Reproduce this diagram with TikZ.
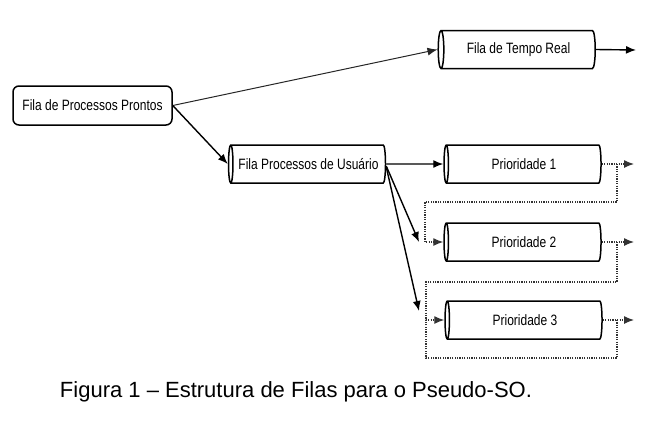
\documentclass[tikz,border=0pt]{standalone}
\usepackage{fontspec}
\setmainfont{Liberation Sans}
\newfontfamily\boxfont[FakeStretch=0.8]{Liberation Sans}
\usetikzlibrary{shapes.geometric,arrows.meta}

\tikzset{
  fila/.style={draw, line width=1.5pt, cylinder, shape border rotate=180,
    aspect=0.4, minimum width=38pt, minimum height=157pt, inner sep=0pt,
    font=\boxfont\fontsize{15}{17}\selectfont},
  pronta/.style={draw, line width=1.5pt, rounded corners=6pt,
    minimum width=159pt, minimum height=39pt, inner sep=0pt,
    font=\boxfont\fontsize{15}{17}\selectfont},
  seta/.style={line width=1.4pt, -{Latex[length=10pt,width=8pt]}},
  volta/.style={line width=1.2pt, gray!40!black, dash pattern=on 1.2pt off 1.2pt},
  voltaseta/.style={volta, -{Latex[length=10pt,width=8pt]}}
}

\begin{document}
\begin{tikzpicture}[x=1pt,y=-1pt]
  \useasboundingbox (0,0) rectangle (648,424);
  % filas
  \node[pronta] (pront) at (92.5,105.5) {Fila de Processos Prontos};
  \node[fila] (tempo) at (518.5,49.5) {Fila de Tempo Real};
  \node[fila] (usu) at (308.5,164) {Fila Processos de Usu\'ario};
  \node[fila] (p1) at (524,164) {Prioridade 1};
  \node[fila] (p2) at (524,242) {Prioridade 2};
  \node[fila] (p3) at (525,320) {Prioridade 3};
  % pontas soltas
  \coordinate (out0) at (636,50);
  \coordinate (out1) at (634,164);
  \coordinate (out2) at (634,242);
  \coordinate (out3) at (634,320);
  \coordinate (u2) at (419,242);
  \coordinate (u3) at (419,311);
  % ligacoes
  \draw[line width=1pt, gray!30!black, -{Latex[length=10pt,width=8pt]}] (pront.east) -- (tempo.west);
  \draw[seta] (pront.east) -- (usu.west);
  \draw[seta] (tempo.east) -- (out0);
  \draw[seta] (usu.east) -- (p1.west);
  \draw[seta] ([yshift=-2pt]usu.east) -- (u2);
  \draw[seta] ([yshift=-3pt]usu.east) -- (u3);
  \draw[voltaseta] (p1.east) -- (out1);
  \draw[voltaseta] (p2.east) -- (out2);
  \draw[voltaseta] (p3.east) -- (out3);
  \draw[voltaseta] (617,164) -- (617,202) -- (425,202) |- (p2.west);
  \draw[voltaseta] (617,242) -- (617,282) -- (426,282) |- (p3.west);
  \draw[volta] (617,320) -- (617,358) -- (426,358) -- (426,320);
  % legenda
  \node[font=\fontsize{22}{26}\selectfont] (leg) at (296,392)
    {Figura 1 -- Estrutura de Filas para o Pseudo-SO.};
\end{tikzpicture}
\end{document}
